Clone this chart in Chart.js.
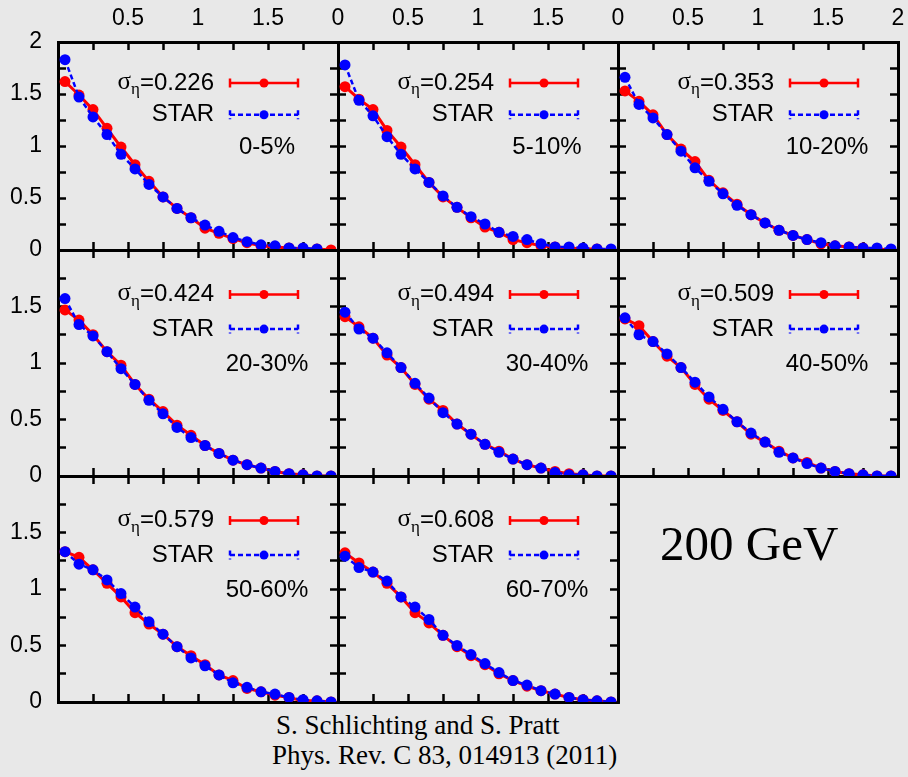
<!DOCTYPE html>
<html>
<head>
<meta charset="utf-8">
<title>dN/deta 200 GeV</title>
<script src="https://cdn.jsdelivr.net/npm/chart.js@4.4.1/dist/chart.umd.min.js"></script>
<style>
    body { margin: 0; background: #e8e8e8; width: 908px; height: 777px; overflow: hidden; position: relative; }
    canvas { position: absolute; }
    .nota { position: absolute; font-family: "Liberation Serif", "Times New Roman", serif; color: #000; white-space: nowrap; line-height: 1; }
</style>
</head>
<body>
<div class="nota" style="left:660px; top:519px; font-size:49px;">200 GeV</div>
<div class="nota" style="left:276px; top:712px; font-size:27px;">S. Schlichting and S. Pratt</div>
<div class="nota" style="left:272px; top:742px; font-size:27px;">Phys. Rev. C 83, 014913 (2011)</div>
<script>
// centros de los bins en eta
var etaBins = [0.05, 0.15, 0.25, 0.35, 0.45, 0.55, 0.65, 0.75, 0.85, 0.95,
               1.05, 1.15, 1.25, 1.35, 1.45, 1.55, 1.65, 1.75, 1.85, 1.95];
var centralidades = ['0-5%', '5-10%', '10-20%', '20-30%', '30-40%', '40-50%', '50-60%', '60-70%'];
var sigmaEta = ['0.226', '0.254', '0.353', '0.424', '0.494', '0.509', '0.579', '0.608'];

// modelo (rojo) y STAR (azul)
var model0to5   = [1.62, 1.49, 1.35, 1.17, 0.99, 0.82, 0.66, 0.51, 0.40, 0.31, 0.21, 0.16, 0.11, 0.07, 0.04, 0.03, 0.02, 0.01, 0.01, 0.00];
var star0to5    = [1.83, 1.47, 1.28, 1.11, 0.92, 0.78, 0.63, 0.51, 0.40, 0.31, 0.24, 0.18, 0.12, 0.08, 0.05, 0.04, 0.02, 0.02, 0.01];
var model5to10  = [1.57, 1.45, 1.35, 1.15, 0.99, 0.82, 0.65, 0.51, 0.41, 0.31, 0.22, 0.17, 0.10, 0.07, 0.04, 0.03, 0.02, 0.01, 0.01, 0.00];
var star5to10   = [1.78, 1.44, 1.29, 1.09, 0.92, 0.78, 0.65, 0.52, 0.41, 0.32, 0.25, 0.17, 0.13, 0.10, 0.06, 0.03, 0.03, 0.02, 0.01, 0.01];
var model10to20 = [1.53, 1.43, 1.30, 1.11, 0.97, 0.85, 0.67, 0.55, 0.44, 0.34, 0.26, 0.19, 0.14, 0.10, 0.06, 0.04, 0.03, 0.02, 0.01, 0.00];
var star10to20  = [1.66, 1.40, 1.27, 1.11, 0.95, 0.79, 0.66, 0.54, 0.43, 0.34, 0.26, 0.19, 0.14, 0.10, 0.07, 0.04, 0.03, 0.02, 0.02, 0.01];
var model20to30 = [1.47, 1.38, 1.25, 1.10, 0.98, 0.81, 0.68, 0.57, 0.45, 0.36, 0.27, 0.20, 0.14, 0.10, 0.07, 0.04, 0.02, 0.01, 0.00, 0.00];
var star20to30  = [1.57, 1.34, 1.24, 1.10, 0.95, 0.81, 0.67, 0.55, 0.43, 0.34, 0.27, 0.20, 0.14, 0.10, 0.07, 0.04, 0.02, 0.01, 0.00, 0.00];
var model30to40 = [1.41, 1.32, 1.22, 1.07, 0.96, 0.81, 0.68, 0.58, 0.46, 0.37, 0.28, 0.22, 0.15, 0.10, 0.07, 0.04, 0.02, 0.01, 0.00, 0.00];
var star30to40  = [1.45, 1.30, 1.22, 1.09, 0.96, 0.82, 0.69, 0.56, 0.46, 0.37, 0.28, 0.21, 0.15, 0.10, 0.07, 0.03, 0.01, 0.01, 0.00, 0.00];
var model40to50 = [1.39, 1.33, 1.19, 1.06, 0.96, 0.81, 0.68, 0.58, 0.48, 0.37, 0.30, 0.22, 0.16, 0.12, 0.07, 0.04, 0.02, 0.01, 0.00, 0.00];
var star40to50  = [1.40, 1.25, 1.19, 1.08, 0.96, 0.83, 0.70, 0.59, 0.48, 0.38, 0.30, 0.21, 0.16, 0.11, 0.07, 0.04, 0.02, 0.01, 0.00, 0.00];
var model50to60 = [1.33, 1.28, 1.17, 1.05, 0.93, 0.79, 0.69, 0.60, 0.49, 0.41, 0.33, 0.24, 0.19, 0.12, 0.09, 0.06, 0.04, 0.01, 0.01, 0.00];
var star50to60  = [1.33, 1.22, 1.17, 1.08, 0.96, 0.84, 0.71, 0.60, 0.49, 0.39, 0.32, 0.24, 0.17, 0.13, 0.09, 0.07, 0.04, 0.02, 0.01, 0.00];
var model60to70 = [1.32, 1.23, 1.15, 1.05, 0.93, 0.79, 0.70, 0.59, 0.49, 0.41, 0.33, 0.25, 0.19, 0.14, 0.10, 0.07, 0.04, 0.02, 0.01, 0.00];
var star60to70  = [1.29, 1.19, 1.15, 1.07, 0.93, 0.84, 0.73, 0.59, 0.50, 0.42, 0.34, 0.26, 0.19, 0.15, 0.10, 0.07, 0.04, 0.02, 0.01, 0.00];

var modelos = [model0to5, model5to10, model10to20, model20to30, model30to40, model40to50, model50to60, model60to70];
var stars = [star0to5, star5to10, star10to20, star20to30, star30to40, star40to50, star50to60, star60to70];

// geometria de los paneles (px de pagina)
var colLeft = [58, 338, 618];
var colWidth = 280;
var rowTop = [42, 250, 476];
var rowHeight = [208, 226, 226];
var margen = { l: 60, t: 44, r: 14, b: 14 };

var sans = '"Liberation Sans", Arial, sans-serif';
var serif = '"Liberation Serif", "Times New Roman", serif';

function puntos(valores){
    return valores.map(function(v, k){ return { x: etaBins[k], y: v }; });
}

function esMedio(v){
    return Math.abs(v * 2 - Math.round(v * 2)) < 1e-9;
}

// muestra de linea de la leyenda, con "caps" en los extremos
function muestra(ctx, x0, x1, xm, y, color, dash){
    ctx.strokeStyle = color;
    ctx.fillStyle = color;
    ctx.lineWidth = 2.5;
    ctx.setLineDash(dash);
    ctx.beginPath();
    ctx.moveTo(x0, y); ctx.lineTo(x1, y);
    ctx.moveTo(x0, y - 4.5); ctx.lineTo(x0, y + 4.5);
    ctx.moveTo(x1, y - 4.5); ctx.lineTo(x1, y + 4.5);
    ctx.stroke();
    ctx.setLineDash([]);
    ctx.beginPath();
    ctx.arc(xm, y, 4.5, 0, Math.PI * 2);
    ctx.fill();
}

var leyendaPanel = {
    id: 'leyendaPanel',
    afterDatasetsDraw: function(chart, args, opts){
        var ctx = chart.ctx;
        var a = chart.chartArea;
        var h = a.bottom - a.top;
        var xr = a.left + 156;
        var y1 = a.top + 0.197 * h;
        var y2 = a.top + 0.35 * h;
        var y3 = a.top + 0.505 * h;
        ctx.save();
        ctx.fillStyle = '#000';
        ctx.textBaseline = 'middle';
        ctx.textAlign = 'left';
        var resto = '=' + opts.sigma;
        ctx.font = '24px ' + sans;
        var wResto = ctx.measureText(resto).width;
        ctx.font = '25px ' + serif;
        var wSig = ctx.measureText('σ').width;
        ctx.font = '17px ' + serif;
        var wEta = ctx.measureText('η').width;
        var x = xr - wResto - wEta - wSig;
        ctx.font = '25px ' + serif;
        ctx.fillText('σ', x, y1 - 1);
        x += wSig;
        ctx.font = '17px ' + serif;
        ctx.fillText('η', x, y1 + 7);
        x += wEta;
        ctx.font = '24px ' + sans;
        ctx.fillText(resto, x, y1);
        ctx.textAlign = 'right';
        ctx.fillText('STAR', xr, y2);
        ctx.textAlign = 'center';
        ctx.fillText(opts.centralidad, a.left + 209, y3);
        muestra(ctx, a.left + 172, a.left + 240, a.left + 206, y1, '#ff0000', []);
        muestra(ctx, a.left + 172, a.left + 240, a.left + 206, y2, '#0000ff', [5, 3]);
        ctx.restore();
    }
};

function eje(pos, tam, etiqueta, padding){
    return {
        type: 'linear',
        position: pos,
        min: 0,
        max: 2,
        grid: { drawOnChartArea: false, drawTicks: true, tickLength: -8, tickWidth: 2.5, tickColor: '#000' },
        border: { display: true, color: '#000', width: 3 },
        ticks: {
            stepSize: 0.25,
            autoSkip: false,
            maxRotation: 0,
            padding: padding,
            color: '#000',
            font: { family: sans, size: 23 },
            callback: etiqueta
        },
        afterFit: function(s){
            if (s.isHorizontal()) { s.height = tam; } else { s.width = tam; }
            // que las etiquetas no empujen el area del grafico
            s.paddingTop = 0; s.paddingBottom = 0;
            s.paddingLeft = 0; s.paddingRight = 0;
        }
    };
}

function sinEtiqueta(){ return ''; }

centralidades.forEach(function(cent, i){
    var row = Math.floor(i / 3);
    var col = i % 3;
    var w = colWidth + margen.l + margen.r;
    var h = rowHeight[row] + margen.t + margen.b;
    var cv = document.createElement('canvas');
    cv.width = w;
    cv.height = h;
    cv.style.width = w + 'px';
    cv.style.height = h + 'px';
    cv.style.left = (colLeft[col] - margen.l) + 'px';
    cv.style.top = (rowTop[row] - margen.t) + 'px';
    document.body.appendChild(cv);

    var etiquetaX = function(v){
        if (row !== 0 || !esMedio(v)) return '';
        if (col === 0 && (v === 0 || v === 2)) return '';
        if (col === 1 && v === 2) return '';
        return String(v);
    };
    var etiquetaY = function(v){
        if (col !== 0 || !esMedio(v)) return '';
        if (row > 0 && v === 2) return '';
        return String(v);
    };

    new Chart(cv, {
        type: 'line',
        data: {
            datasets: [{
                label: 'STAR',
                data: puntos(stars[i]),
                borderColor: '#0000ff',
                backgroundColor: '#0000ff',
                borderWidth: 2.5,
                borderDash: [5, 3],
                pointRadius: 5.5,
                pointBorderWidth: 0,
                tension: 0
            }, {
                label: 'σ_η=' + sigmaEta[i],
                data: puntos(modelos[i]),
                borderColor: '#ff0000',
                backgroundColor: '#ff0000',
                borderWidth: 3,
                pointRadius: 5.5,
                pointBorderWidth: 0,
                tension: 0
            }]
        },
        options: {
            responsive: false,
            animation: false,
            devicePixelRatio: 1,
            events: [],
            layout: { padding: 0 },
            plugins: {
                legend: { display: false },
                tooltip: { enabled: false },
                leyendaPanel: { sigma: sigmaEta[i], centralidad: cent }
            },
            scales: {
                x: eje('bottom', margen.b, sinEtiqueta, 0),
                x2: eje('top', margen.t, etiquetaX, 18),
                y: eje('left', margen.l, etiquetaY, 24),
                y2: eje('right', margen.r, sinEtiqueta, 0)
            }
        },
        plugins: [leyendaPanel]
    });
});
</script>
</body>
</html>
